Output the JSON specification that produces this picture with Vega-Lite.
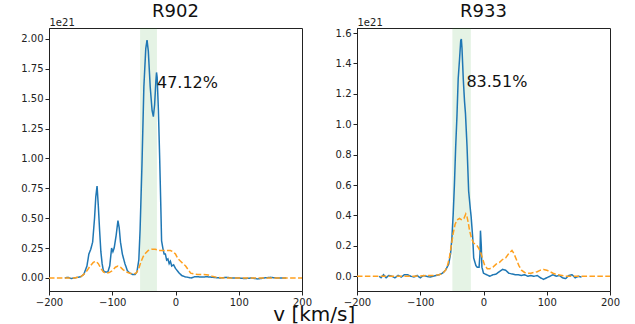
{
  "$schema": "https://vega.github.io/schema/vega-lite/v6.json",
  "padding": {"left": 8, "top": 2, "right": 5, "bottom": 0},
  "background": "white",
  "bounds": "flush",
  "spacing": 55,
  "config": {
    "font": "DejaVu Sans",
    "view": {"stroke": "#222", "strokeWidth": 1},
    "axis": {
      "grid": false,
      "domainColor": "#222",
      "tickColor": "#222",
      "tickSize": 4,
      "labelFontSize": 10,
      "labelColor": "#222",
      "labelPadding": 2,
      "labelFlush": false,
      "labelOverlap": false
    },
    "title": {"font": "DejaVu Sans", "fontWeight": "normal", "color": "#111"}
  },
  "datasets": {
    "r902": [
      {"series": "line1", "v": -175, "n": 0.0},
      {"series": "line1", "v": -170, "n": 0.005},
      {"series": "line1", "v": -165, "n": -0.005},
      {"series": "line1", "v": -160, "n": 0.0},
      {"series": "line1", "v": -155, "n": 0.005},
      {"series": "line1", "v": -150, "n": 0.01},
      {"series": "line1", "v": -145, "n": 0.03},
      {"series": "line1", "v": -140, "n": 0.1},
      {"series": "line1", "v": -137, "n": 0.2},
      {"series": "line1", "v": -134, "n": 0.24},
      {"series": "line1", "v": -131, "n": 0.3},
      {"series": "line1", "v": -128, "n": 0.5},
      {"series": "line1", "v": -126, "n": 0.68},
      {"series": "line1", "v": -124, "n": 0.77},
      {"series": "line1", "v": -122, "n": 0.6},
      {"series": "line1", "v": -120, "n": 0.4},
      {"series": "line1", "v": -118, "n": 0.22},
      {"series": "line1", "v": -116, "n": 0.12},
      {"series": "line1", "v": -114, "n": 0.06},
      {"series": "line1", "v": -111, "n": 0.05},
      {"series": "line1", "v": -107, "n": 0.05},
      {"series": "line1", "v": -104, "n": 0.1},
      {"series": "line1", "v": -101, "n": 0.25},
      {"series": "line1", "v": -99, "n": 0.22},
      {"series": "line1", "v": -97, "n": 0.25},
      {"series": "line1", "v": -94, "n": 0.35},
      {"series": "line1", "v": -91, "n": 0.48},
      {"series": "line1", "v": -89, "n": 0.42},
      {"series": "line1", "v": -87, "n": 0.3},
      {"series": "line1", "v": -84, "n": 0.2},
      {"series": "line1", "v": -80, "n": 0.12},
      {"series": "line1", "v": -76, "n": 0.06},
      {"series": "line1", "v": -72, "n": 0.04},
      {"series": "line1", "v": -68, "n": 0.03},
      {"series": "line1", "v": -64, "n": 0.03},
      {"series": "line1", "v": -61, "n": 0.05},
      {"series": "line1", "v": -58, "n": 0.15},
      {"series": "line1", "v": -56, "n": 0.4},
      {"series": "line1", "v": -53, "n": 0.95},
      {"series": "line1", "v": -50, "n": 1.6},
      {"series": "line1", "v": -47, "n": 1.92},
      {"series": "line1", "v": -45, "n": 1.99},
      {"series": "line1", "v": -43, "n": 1.9},
      {"series": "line1", "v": -40, "n": 1.6},
      {"series": "line1", "v": -37, "n": 1.4},
      {"series": "line1", "v": -35, "n": 1.35},
      {"series": "line1", "v": -33, "n": 1.45},
      {"series": "line1", "v": -31, "n": 1.65},
      {"series": "line1", "v": -30, "n": 1.72},
      {"series": "line1", "v": -29, "n": 1.68},
      {"series": "line1", "v": -27, "n": 1.4},
      {"series": "line1", "v": -25, "n": 1.0},
      {"series": "line1", "v": -23, "n": 0.55},
      {"series": "line1", "v": -22, "n": 0.31},
      {"series": "line1", "v": -20, "n": 0.25},
      {"series": "line1", "v": -18, "n": 0.2},
      {"series": "line1", "v": -16, "n": 0.2},
      {"series": "line1", "v": -14, "n": 0.15},
      {"series": "line1", "v": -12, "n": 0.16},
      {"series": "line1", "v": -10, "n": 0.12},
      {"series": "line1", "v": -8, "n": 0.14},
      {"series": "line1", "v": -6, "n": 0.1},
      {"series": "line1", "v": -3, "n": 0.11},
      {"series": "line1", "v": 0, "n": 0.08},
      {"series": "line1", "v": 3, "n": 0.06},
      {"series": "line1", "v": 6, "n": 0.04},
      {"series": "line1", "v": 10, "n": 0.02},
      {"series": "line1", "v": 15, "n": 0.01},
      {"series": "line1", "v": 20, "n": 0.005},
      {"series": "line1", "v": 25, "n": 0.0},
      {"series": "line1", "v": 30, "n": 0.01},
      {"series": "line1", "v": 35, "n": 0.01},
      {"series": "line1", "v": 40, "n": 0.008},
      {"series": "line1", "v": 50, "n": 0.01},
      {"series": "line1", "v": 60, "n": 0.005},
      {"series": "line1", "v": 70, "n": 0.0},
      {"series": "line1", "v": 80, "n": 0.005},
      {"series": "line1", "v": 90, "n": 0.0},
      {"series": "line1", "v": 100, "n": 0.0},
      {"series": "line1", "v": 110, "n": -0.005},
      {"series": "line1", "v": 120, "n": 0.0},
      {"series": "line1", "v": 130, "n": -0.008},
      {"series": "line1", "v": 140, "n": 0.0},
      {"series": "line1", "v": 150, "n": 0.005},
      {"series": "line1", "v": 160, "n": 0.0},
      {"series": "line1", "v": 175, "n": 0.0},
      {"series": "line2", "v": -200, "n": 0.0},
      {"series": "line2", "v": -160, "n": 0.0},
      {"series": "line2", "v": -150, "n": 0.01},
      {"series": "line2", "v": -145, "n": 0.03},
      {"series": "line2", "v": -140, "n": 0.06},
      {"series": "line2", "v": -135, "n": 0.1},
      {"series": "line2", "v": -130, "n": 0.13},
      {"series": "line2", "v": -126, "n": 0.14},
      {"series": "line2", "v": -122, "n": 0.12},
      {"series": "line2", "v": -118, "n": 0.08},
      {"series": "line2", "v": -114, "n": 0.05},
      {"series": "line2", "v": -110, "n": 0.04},
      {"series": "line2", "v": -105, "n": 0.045},
      {"series": "line2", "v": -100, "n": 0.06},
      {"series": "line2", "v": -95, "n": 0.09},
      {"series": "line2", "v": -91, "n": 0.1},
      {"series": "line2", "v": -87, "n": 0.09},
      {"series": "line2", "v": -83, "n": 0.07},
      {"series": "line2", "v": -78, "n": 0.05},
      {"series": "line2", "v": -72, "n": 0.04},
      {"series": "line2", "v": -66, "n": 0.035},
      {"series": "line2", "v": -62, "n": 0.04},
      {"series": "line2", "v": -58, "n": 0.08},
      {"series": "line2", "v": -55, "n": 0.13},
      {"series": "line2", "v": -51, "n": 0.18},
      {"series": "line2", "v": -47, "n": 0.21},
      {"series": "line2", "v": -43, "n": 0.23},
      {"series": "line2", "v": -38, "n": 0.24},
      {"series": "line2", "v": -32, "n": 0.24},
      {"series": "line2", "v": -26, "n": 0.23},
      {"series": "line2", "v": -20, "n": 0.23},
      {"series": "line2", "v": -14, "n": 0.23},
      {"series": "line2", "v": -8, "n": 0.23},
      {"series": "line2", "v": -4, "n": 0.22},
      {"series": "line2", "v": 0, "n": 0.2},
      {"series": "line2", "v": 4, "n": 0.16},
      {"series": "line2", "v": 8, "n": 0.14},
      {"series": "line2", "v": 12, "n": 0.12},
      {"series": "line2", "v": 16, "n": 0.1},
      {"series": "line2", "v": 20, "n": 0.07},
      {"series": "line2", "v": 24, "n": 0.04},
      {"series": "line2", "v": 28, "n": 0.035},
      {"series": "line2", "v": 35, "n": 0.03},
      {"series": "line2", "v": 45, "n": 0.03},
      {"series": "line2", "v": 52, "n": 0.025},
      {"series": "line2", "v": 58, "n": 0.015},
      {"series": "line2", "v": 65, "n": 0.005},
      {"series": "line2", "v": 75, "n": 0.0},
      {"series": "line2", "v": 100, "n": 0.0},
      {"series": "line2", "v": 140, "n": 0.0},
      {"series": "line2", "v": 200, "n": 0.0}
    ],
    "r933": [
      {"series": "line1", "v": -165, "n": 0.0},
      {"series": "line1", "v": -162, "n": -0.01},
      {"series": "line1", "v": -158, "n": 0.01},
      {"series": "line1", "v": -154, "n": -0.01},
      {"series": "line1", "v": -150, "n": 0.005},
      {"series": "line1", "v": -145, "n": 0.0},
      {"series": "line1", "v": -140, "n": -0.01},
      {"series": "line1", "v": -135, "n": 0.005},
      {"series": "line1", "v": -130, "n": -0.005},
      {"series": "line1", "v": -125, "n": 0.01},
      {"series": "line1", "v": -120, "n": 0.01},
      {"series": "line1", "v": -115, "n": 0.0},
      {"series": "line1", "v": -110, "n": -0.005},
      {"series": "line1", "v": -105, "n": 0.005},
      {"series": "line1", "v": -100, "n": -0.01},
      {"series": "line1", "v": -95, "n": 0.005},
      {"series": "line1", "v": -90, "n": 0.0},
      {"series": "line1", "v": -85, "n": -0.005},
      {"series": "line1", "v": -80, "n": 0.0},
      {"series": "line1", "v": -75, "n": 0.005},
      {"series": "line1", "v": -70, "n": 0.01},
      {"series": "line1", "v": -65, "n": 0.02},
      {"series": "line1", "v": -60, "n": 0.04},
      {"series": "line1", "v": -55, "n": 0.08},
      {"series": "line1", "v": -52, "n": 0.15},
      {"series": "line1", "v": -50, "n": 0.25},
      {"series": "line1", "v": -48, "n": 0.4},
      {"series": "line1", "v": -46, "n": 0.6},
      {"series": "line1", "v": -44, "n": 0.85},
      {"series": "line1", "v": -42, "n": 1.05},
      {"series": "line1", "v": -40, "n": 1.3},
      {"series": "line1", "v": -38, "n": 1.42},
      {"series": "line1", "v": -36, "n": 1.55},
      {"series": "line1", "v": -35, "n": 1.56},
      {"series": "line1", "v": -34, "n": 1.5},
      {"series": "line1", "v": -32, "n": 1.3},
      {"series": "line1", "v": -30, "n": 1.15},
      {"series": "line1", "v": -28.5, "n": 1.07},
      {"series": "line1", "v": -26, "n": 0.85},
      {"series": "line1", "v": -23.5, "n": 0.56},
      {"series": "line1", "v": -21, "n": 0.45},
      {"series": "line1", "v": -19.5, "n": 0.39},
      {"series": "line1", "v": -17, "n": 0.25},
      {"series": "line1", "v": -15.5, "n": 0.12},
      {"series": "line1", "v": -12, "n": 0.07},
      {"series": "line1", "v": -10, "n": 0.06},
      {"series": "line1", "v": -7, "n": 0.06},
      {"series": "line1", "v": -5.5, "n": 0.15},
      {"series": "line1", "v": -4.8, "n": 0.3},
      {"series": "line1", "v": -3.5, "n": 0.2},
      {"series": "line1", "v": -2.5, "n": 0.06},
      {"series": "line1", "v": 0, "n": 0.02},
      {"series": "line1", "v": 5, "n": 0.01},
      {"series": "line1", "v": 10, "n": 0.0},
      {"series": "line1", "v": 15, "n": 0.01},
      {"series": "line1", "v": 20, "n": 0.015},
      {"series": "line1", "v": 25, "n": 0.03},
      {"series": "line1", "v": 30, "n": 0.045},
      {"series": "line1", "v": 35, "n": 0.04},
      {"series": "line1", "v": 40, "n": 0.02},
      {"series": "line1", "v": 45, "n": 0.015},
      {"series": "line1", "v": 50, "n": 0.01},
      {"series": "line1", "v": 55, "n": 0.01},
      {"series": "line1", "v": 60, "n": 0.005},
      {"series": "line1", "v": 65, "n": 0.01},
      {"series": "line1", "v": 70, "n": 0.0},
      {"series": "line1", "v": 75, "n": 0.005},
      {"series": "line1", "v": 80, "n": 0.0},
      {"series": "line1", "v": 85, "n": 0.005},
      {"series": "line1", "v": 90, "n": -0.01},
      {"series": "line1", "v": 95, "n": -0.02},
      {"series": "line1", "v": 100, "n": -0.01},
      {"series": "line1", "v": 105, "n": 0.0},
      {"series": "line1", "v": 110, "n": 0.01},
      {"series": "line1", "v": 115, "n": 0.0},
      {"series": "line1", "v": 120, "n": 0.005},
      {"series": "line1", "v": 125, "n": -0.01},
      {"series": "line1", "v": 130, "n": -0.015},
      {"series": "line1", "v": 135, "n": 0.005},
      {"series": "line1", "v": 140, "n": 0.01},
      {"series": "line1", "v": 145, "n": -0.01},
      {"series": "line1", "v": 150, "n": 0.0},
      {"series": "line1", "v": 155, "n": -0.005},
      {"series": "line2", "v": -200, "n": 0.0},
      {"series": "line2", "v": -170, "n": 0.0},
      {"series": "line2", "v": -140, "n": 0.0},
      {"series": "line2", "v": -110, "n": 0.0},
      {"series": "line2", "v": -90, "n": 0.005},
      {"series": "line2", "v": -80, "n": 0.005},
      {"series": "line2", "v": -70, "n": 0.01},
      {"series": "line2", "v": -64, "n": 0.02},
      {"series": "line2", "v": -60, "n": 0.04},
      {"series": "line2", "v": -57, "n": 0.07},
      {"series": "line2", "v": -54, "n": 0.12},
      {"series": "line2", "v": -51, "n": 0.2},
      {"series": "line2", "v": -48, "n": 0.28},
      {"series": "line2", "v": -45, "n": 0.34},
      {"series": "line2", "v": -42, "n": 0.37},
      {"series": "line2", "v": -38, "n": 0.38},
      {"series": "line2", "v": -34, "n": 0.37},
      {"series": "line2", "v": -31, "n": 0.38},
      {"series": "line2", "v": -28, "n": 0.41},
      {"series": "line2", "v": -26, "n": 0.39},
      {"series": "line2", "v": -24, "n": 0.35},
      {"series": "line2", "v": -22, "n": 0.3},
      {"series": "line2", "v": -19, "n": 0.25},
      {"series": "line2", "v": -16, "n": 0.22},
      {"series": "line2", "v": -13, "n": 0.21},
      {"series": "line2", "v": -10, "n": 0.2},
      {"series": "line2", "v": -7, "n": 0.18},
      {"series": "line2", "v": -4, "n": 0.15},
      {"series": "line2", "v": -1, "n": 0.11},
      {"series": "line2", "v": 2, "n": 0.07},
      {"series": "line2", "v": 6, "n": 0.05},
      {"series": "line2", "v": 10, "n": 0.05},
      {"series": "line2", "v": 15, "n": 0.06},
      {"series": "line2", "v": 20, "n": 0.08},
      {"series": "line2", "v": 25, "n": 0.09},
      {"series": "line2", "v": 30, "n": 0.11},
      {"series": "line2", "v": 35, "n": 0.12},
      {"series": "line2", "v": 40, "n": 0.15},
      {"series": "line2", "v": 45, "n": 0.17},
      {"series": "line2", "v": 48, "n": 0.15},
      {"series": "line2", "v": 52, "n": 0.11},
      {"series": "line2", "v": 56, "n": 0.07},
      {"series": "line2", "v": 60, "n": 0.04},
      {"series": "line2", "v": 65, "n": 0.025},
      {"series": "line2", "v": 70, "n": 0.02},
      {"series": "line2", "v": 75, "n": 0.02},
      {"series": "line2", "v": 80, "n": 0.025},
      {"series": "line2", "v": 85, "n": 0.03},
      {"series": "line2", "v": 90, "n": 0.04},
      {"series": "line2", "v": 95, "n": 0.045},
      {"series": "line2", "v": 100, "n": 0.04},
      {"series": "line2", "v": 105, "n": 0.03},
      {"series": "line2", "v": 110, "n": 0.02},
      {"series": "line2", "v": 115, "n": 0.012},
      {"series": "line2", "v": 120, "n": 0.008},
      {"series": "line2", "v": 130, "n": 0.0},
      {"series": "line2", "v": 200, "n": 0.0}
    ]
  },
  "title": {
    "text": "v [km/s]",
    "orient": "bottom",
    "anchor": "middle",
    "fontSize": 20,
    "fontWeight": "normal",
    "color": "#111",
    "offset": -3
  },
  "hconcat": [
    {
      "title": {"text": "R902", "fontSize": 18, "fontWeight": "normal", "anchor": "middle", "frame": "group", "offset": -4},
      "width": 253,
      "height": 263,
      "layer": [
        {
          "data": {"values": [{"v0": -56, "v1": -29.3}]},
          "mark": {"type": "rect", "color": "#2ca02c", "opacity": 0.12},
          "encoding": {
            "x": {"field": "v0", "type": "quantitative", "scale": {"domain": [-200, 200], "nice": false},
                  "axis": {"title": null, "values": [-200, -100, 0, 100, 200]}},
            "x2": {"field": "v1"}
          }
        },
        {
          "data": {"name": "r902"},
          "mark": {"type": "line", "strokeWidth": 1.5},
          "encoding": {
            "x": {"field": "v", "type": "quantitative", "scale": {"domain": [-200, 200], "nice": false},
                  "axis": {"title": null, "values": [-200, -100, 0, 100, 200]}},
            "y": {"field": "n", "type": "quantitative",
                  "scale": {"domain": [-0.109, 2.092], "nice": false, "zero": false},
                  "axis": {"title": "1e21", "titleAngle": 0, "titleAlign": "left", "titleBaseline": "alphabetic",
                           "titleX": 0, "titleY": -3, "titleFontSize": 10, "titleFontWeight": "normal", "titleColor": "#222",
                           "values": [0, 0.25, 0.5, 0.75, 1.0, 1.25, 1.5, 1.75, 2.0], "format": ".2f",
                           "minExtent": 40, "maxExtent": 40}},
            "color": {"field": "series", "type": "nominal", "scale": {"domain": ["line1", "line2"], "range": ["#1f77b4", "#ffa01e"]}, "legend": null},
            "strokeDash": {"field": "series", "type": "nominal", "scale": {"domain": ["line1", "line2"], "range": [[1, 0], [5.5, 2.4]]}, "legend": null},
            "order": {"field": "series", "sort": "descending"}
          }
        },
        {
          "data": {"values": [{"v": -29.3, "n": 1.587, "label": "47.12%"}]},
          "mark": {"type": "text", "align": "left", "baseline": "alphabetic", "fontSize": 16, "color": "#111"},
          "encoding": {
            "x": {"field": "v", "type": "quantitative", "scale": {"domain": [-200, 200], "nice": false},
                  "axis": {"title": null, "values": [-200, -100, 0, 100, 200]}},
            "y": {"field": "n", "type": "quantitative",
                  "scale": {"domain": [-0.109, 2.092], "nice": false, "zero": false},
                  "axis": {"title": "1e21", "titleAngle": 0, "titleAlign": "left", "titleBaseline": "alphabetic",
                           "titleX": 0, "titleY": -3, "titleFontSize": 10, "titleFontWeight": "normal", "titleColor": "#222",
                           "values": [0, 0.25, 0.5, 0.75, 1.0, 1.25, 1.5, 1.75, 2.0], "format": ".2f",
                           "minExtent": 40, "maxExtent": 40}},
            "text": {"field": "label"}
          }
        }
      ]
    },
    {
      "title": {"text": "R933", "fontSize": 18, "fontWeight": "normal", "anchor": "middle", "frame": "group", "offset": -4},
      "width": 253,
      "height": 263,
      "layer": [
        {
          "data": {"values": [{"v0": -49.2, "v1": -20}]},
          "mark": {"type": "rect", "color": "#2ca02c", "opacity": 0.12},
          "encoding": {
            "x": {"field": "v0", "type": "quantitative", "scale": {"domain": [-200, 200], "nice": false},
                  "axis": {"title": null, "values": [-200, -100, 0, 100, 200]}},
            "x2": {"field": "v1"}
          }
        },
        {
          "data": {"name": "r933"},
          "mark": {"type": "line", "strokeWidth": 1.5},
          "encoding": {
            "x": {"field": "v", "type": "quantitative", "scale": {"domain": [-200, 200], "nice": false},
                  "axis": {"title": null, "values": [-200, -100, 0, 100, 200]}},
            "y": {"field": "n", "type": "quantitative",
                  "scale": {"domain": [-0.097, 1.633], "nice": false, "zero": false},
                  "axis": {"title": "1e21", "titleAngle": 0, "titleAlign": "left", "titleBaseline": "alphabetic",
                           "titleX": 0, "titleY": -3, "titleFontSize": 10, "titleFontWeight": "normal", "titleColor": "#222",
                           "values": [0, 0.2, 0.4, 0.6, 0.8, 1.0, 1.2, 1.4, 1.6], "format": ".1f",
                           "minExtent": 40, "maxExtent": 40}},
            "color": {"field": "series", "type": "nominal", "scale": {"domain": ["line1", "line2"], "range": ["#1f77b4", "#ffa01e"]}, "legend": null},
            "strokeDash": {"field": "series", "type": "nominal", "scale": {"domain": ["line1", "line2"], "range": [[1, 0], [5.5, 2.4]]}, "legend": null},
            "order": {"field": "series", "sort": "descending"}
          }
        },
        {
          "data": {"values": [{"v": -27, "n": 1.245, "label": "83.51%"}]},
          "mark": {"type": "text", "align": "left", "baseline": "alphabetic", "fontSize": 16, "color": "#111"},
          "encoding": {
            "x": {"field": "v", "type": "quantitative", "scale": {"domain": [-200, 200], "nice": false},
                  "axis": {"title": null, "values": [-200, -100, 0, 100, 200]}},
            "y": {"field": "n", "type": "quantitative",
                  "scale": {"domain": [-0.097, 1.633], "nice": false, "zero": false},
                  "axis": {"title": "1e21", "titleAngle": 0, "titleAlign": "left", "titleBaseline": "alphabetic",
                           "titleX": 0, "titleY": -3, "titleFontSize": 10, "titleFontWeight": "normal", "titleColor": "#222",
                           "values": [0, 0.2, 0.4, 0.6, 0.8, 1.0, 1.2, 1.4, 1.6], "format": ".1f",
                           "minExtent": 40, "maxExtent": 40}},
            "text": {"field": "label"}
          }
        }
      ]
    }
  ]
}
